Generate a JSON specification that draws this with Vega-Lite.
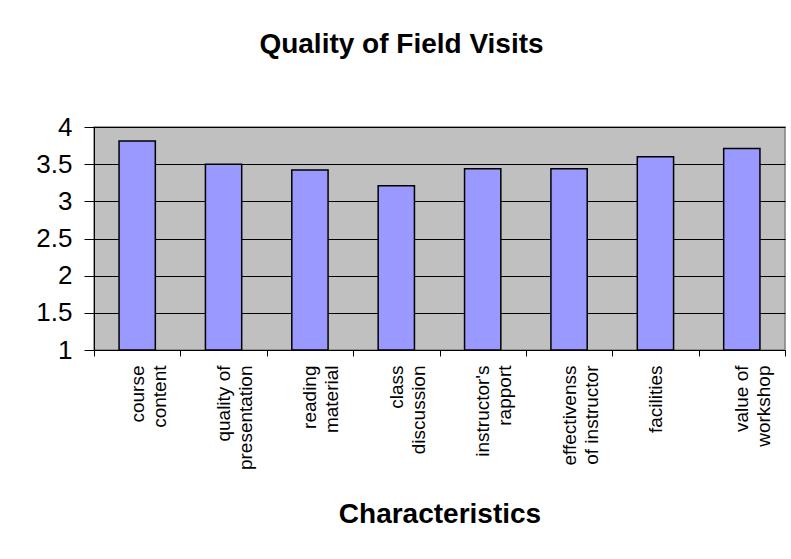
{
  "$schema": "https://vega.github.io/schema/vega-lite/v6.json",
  "autosize": "none",
  "width": 691,
  "height": 223,
  "padding": {"left": 94, "top": 127, "right": 6, "bottom": 209},
  "background": "white",
  "title": {
    "text": "Quality of Field Visits",
    "font": "Liberation Sans",
    "fontSize": 28,
    "fontWeight": "bold",
    "color": "black",
    "anchor": "middle",
    "frame": "group",
    "dx": -38,
    "baseline": "alphabetic",
    "offset": 33
  },
  "data": {
    "values": [
      {"characteristic": "course\ncontent", "score": 3.81},
      {"characteristic": "quality of\npresentation", "score": 3.5},
      {"characteristic": "reading\nmaterial", "score": 3.42},
      {"characteristic": "class\ndiscussion", "score": 3.21},
      {"characteristic": "instructor's\nrapport", "score": 3.44},
      {"characteristic": "effectivenss\nof instructor", "score": 3.44},
      {"characteristic": "facilities", "score": 3.6},
      {"characteristic": "value of\nworkshop", "score": 3.71}
    ]
  },
  "mark": {"type": "bar", "fill": "#9999FF", "stroke": "black", "strokeWidth": 1.5, "width": {"band": 0.42}},
  "encoding": {
    "x": {
      "field": "characteristic",
      "type": "nominal",
      "sort": null,
      "scale": {"paddingInner": 0, "paddingOuter": 0},
      "axis": {
        "title": "Characteristics",
        "titleFont": "Liberation Sans",
        "titleFontSize": 28,
        "titleFontWeight": "bold",
        "titleColor": "black",
        "titleBaseline": "alphabetic",
        "titleY": 172,
        "labelExpr": "split(datum.label, '\\n')",
        "labelAngle": -90,
        "labelAlign": "right",
        "labelBaseline": "middle",
        "labelFont": "Liberation Sans",
        "labelFontSize": 19,
        "labelLineHeight": 22,
        "labelColor": "black",
        "labelPadding": 9,
        "tickBand": "extent",
        "tickSize": 6,
        "tickColor": "black",
        "domainColor": "black",
        "labelOverlap": false,
        "grid": false
      }
    },
    "y": {
      "field": "score",
      "type": "quantitative",
      "scale": {"domain": [1, 4], "zero": false, "nice": false},
      "axis": {
        "title": null,
        "values": [1, 1.5, 2, 2.5, 3, 3.5, 4],
        "format": ".1~f",
        "labelFont": "Liberation Sans",
        "labelFontSize": 26,
        "labelColor": "black",
        "labelPadding": 12,
        "tickSize": 10,
        "tickColor": "black",
        "domainColor": "black",
        "grid": true,
        "gridColor": "black",
        "gridWidth": 1,
        "gridOpacity": 1
      }
    },
    "y2": {"datum": 1}
  },
  "config": {
    "font": "Liberation Sans",
    "view": {"fill": "#C0C0C0", "stroke": "#808080", "strokeWidth": 1.5}
  }
}
